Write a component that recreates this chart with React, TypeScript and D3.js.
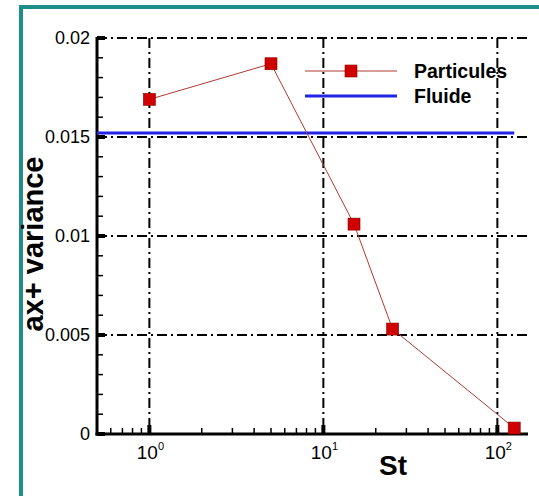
import React from "react";
import * as d3 from "d3";

// Particle data (St vs. variance)
const stValues = [1, 5, 15, 25, 125];
const particules = [0.0169, 0.0187, 0.0106, 0.0053, 0.0003];
// Fluid reference level
const fluideLevel = 0.0152;
const fluideRange = [0.5, 125];

const yMajor = [0, 0.005, 0.01, 0.015, 0.02];
const yLabels = ["0", "0.005", "0.01", "0.015", "0.02"];
const xMajor = [1, 10, 100];
const xExponents = ["0", "1", "2"];

const W = 539;
const H = 496;
const FONT = "'Liberation Sans', Arial, Helvetica, sans-serif";
const DASH = "10,4,2,4";

const App = () => {
  const x = d3.scaleLog().domain([0.5, 150]).range([97, 528]);
  const y = d3.scaleLinear().domain([0, 0.02]).range([434, 38]);
  const [x0, x1] = x.range();
  const [yb, yt] = y.range();

  const yMinor = d3.range(0, 0.0201, 0.001).filter(v => Math.abs(v / 0.005 - Math.round(v / 0.005)) > 1e-6);
  const xMinor = [0.6, 0.7, 0.8, 0.9, ...d3.range(2, 10), ...d3.range(20, 100, 10)];

  const line = d3.line<number>()
    .x((d, i) => x(stValues[i]))
    .y(d => y(d));

  const sq = 12;

  return (
    <div style={{ position: "absolute", left: 0, top: 0 }}>
      <svg width={W} height={H} style={{ display: "block", background: "#fff" }}>
        {/* teal frame */}
        <line x1={21} x2={21} y1={5} y2={H} stroke="#1f8e8a" strokeWidth={4} />
        <line x1={19} x2={W} y1={7} y2={7} stroke="#1f8e8a" strokeWidth={4} />

        {/* grid */}
        {yMajor.slice(1).map(v => (
          <line key={"gy" + v} x1={x0} x2={x1} y1={y(v)} y2={y(v)} stroke="#000" strokeWidth={2} strokeDasharray={DASH} />
        ))}
        {xMajor.map(v => (
          <line key={"gx" + v} x1={x(v)} x2={x(v)} y1={yt} y2={yb} stroke="#000" strokeWidth={2} strokeDasharray={DASH} />
        ))}

        {/* axes */}
        <line x1={x0} x2={x0} y1={yt - 1} y2={yb + 1.5} stroke="#000" strokeWidth={3} />
        <line x1={x0 - 1.5} x2={x1} y1={yb} y2={yb} stroke="#000" strokeWidth={3} />

        {/* y ticks */}
        {yMinor.map(v => (
          <line key={"ym" + v} x1={x0} x2={x0 + 6} y1={y(v)} y2={y(v)} stroke="#000" strokeWidth={1.5} />
        ))}
        {yMajor.map(v => (
          <line key={"yM" + v} x1={x0} x2={x0 + 8} y1={y(v)} y2={y(v)} stroke="#000" strokeWidth={4} />
        ))}
        {yMajor.map((v, i) => (
          <text key={"yl" + v} x={90} y={y(v) + 6} textAnchor="end" fontFamily={FONT} fontSize={18}>
            {yLabels[i]}
          </text>
        ))}

        {/* x ticks */}
        {xMinor.map(v => (
          <line key={"xm" + v} x1={x(v)} x2={x(v)} y1={yb} y2={yb - 6} stroke="#000" strokeWidth={1.5} />
        ))}
        {xMajor.map(v => (
          <line key={"xM" + v} x1={x(v)} x2={x(v)} y1={yb} y2={yb - 9} stroke="#000" strokeWidth={4} />
        ))}
        {xMajor.map((v, i) => (
          <text key={"xl" + v} x={x(v) + 1} y={459} textAnchor="middle" fontFamily={FONT} fontSize={19}>
            10<tspan fontSize={11} dy={-9}>{xExponents[i]}</tspan>
          </text>
        ))}

        {/* fluide */}
        <line x1={x(fluideRange[0])} x2={x(fluideRange[1])} y1={y(fluideLevel)} y2={y(fluideLevel)} stroke="#2323e6" strokeWidth={3} />

        {/* particules */}
        <path d={line(particules) || ""} fill="none" stroke="#b03a30" strokeWidth={1} />
        {particules.map((v, i) => (
          <rect key={"p" + i} x={x(stValues[i]) - sq / 2} y={y(v) - sq / 2} width={sq} height={sq} fill="#d10000" stroke="#8a0000" strokeWidth={0.6} />
        ))}

        {/* legend */}
        <line x1={305} x2={397} y1={71} y2={71} stroke="#b03a30" strokeWidth={1} />
        <rect x={351 - sq / 2} y={71 - sq / 2} width={sq} height={sq} fill="#d10000" stroke="#8a0000" strokeWidth={0.6} />
        <text x={414} y={78} fontFamily={FONT} fontWeight="bold" fontSize={19.5}>Particules</text>
        <line x1={305} x2={397} y1={96} y2={96} stroke="#2323e6" strokeWidth={3} />
        <text x={414} y={103} fontFamily={FONT} fontWeight="bold" fontSize={19.5}>Fluide</text>

        {/* axis titles */}
        <text x={393} y={475} textAnchor="middle" fontFamily={FONT} fontWeight="bold" fontSize={28}>St</text>
        <text transform="translate(43,244) rotate(-90)" textAnchor="middle" fontFamily={FONT} fontWeight="bold" fontSize={29}>
          ax+ variance
        </text>
      </svg>
    </div>
  );
};

export default App;
